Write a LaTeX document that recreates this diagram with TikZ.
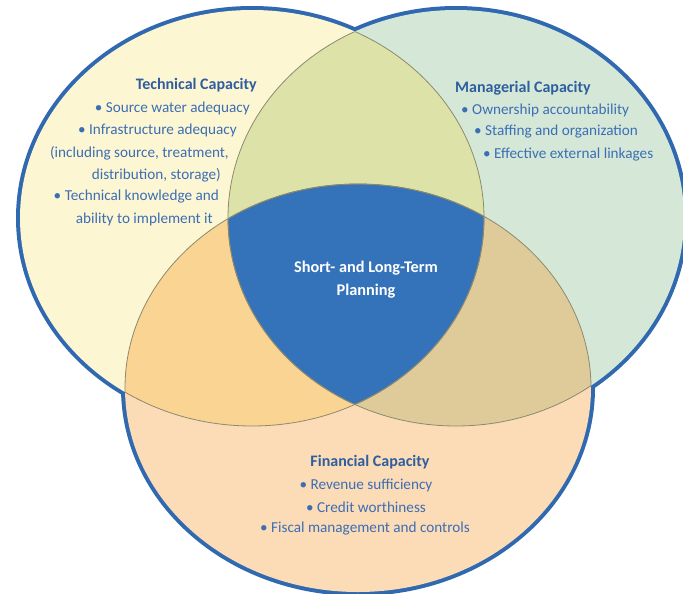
\documentclass[tikz,border=0pt]{standalone}
\usepackage{fontspec}
\setmainfont{Carlito}
\usepackage{tikz}

\definecolor{rimblue}{HTML}{3069B0}
\definecolor{techfill}{HTML}{FDF6D3}
\definecolor{mgmtfill}{HTML}{D5E8D8}
\definecolor{finfill}{HTML}{FCDBB7}
\definecolor{tmfill}{HTML}{DDE3A8}
\definecolor{tffill}{HTML}{FAD492}
\definecolor{mffill}{HTML}{DFCB9A}
\definecolor{corefill}{HTML}{3473B9}
\definecolor{seamgrey}{HTML}{8C8A6E}
\definecolor{itemblue}{HTML}{3C6EB4}
\definecolor{headblue}{HTML}{2E5E9E}

\tikzset{
  rim/.style={draw=rimblue, line width=8pt},
  seam/.style={draw=seamgrey, line width=0.8pt},
  item/.style={text=itemblue, inner sep=0pt, font=\fontsize{15.2}{17}\selectfont},
  head/.style={item, text=headblue, font=\bfseries\fontsize{16}{18}\selectfont},
  core/.style={item, text=white, font=\bfseries\fontsize{16.3}{18}\selectfont}
}

\def\techshape{(252,218) ellipse [x radius=232pt, y radius=208pt]}
\def\mgmtshape{(456,218) ellipse [x radius=228pt, y radius=208pt]}
\def\finshape{(358,388) ellipse [x radius=233pt, y radius=204pt]}

\begin{document}
\begin{tikzpicture}[x=1pt,y=-1pt]
\useasboundingbox (0,0) rectangle (683,594);
% outer rim
\draw[rim] \techshape;
\draw[rim] \mgmtshape;
\draw[rim] \finshape;
% single areas
\fill[techfill] \techshape;
\fill[mgmtfill] \mgmtshape;
\fill[finfill] \finshape;
% overlaps
\begin{scope} \clip \techshape; \fill[tmfill] \mgmtshape; \fill[tffill] \finshape; \end{scope}
\begin{scope} \clip \mgmtshape; \fill[mffill] \finshape; \end{scope}
\begin{scope} \clip \techshape; \clip \mgmtshape; \fill[corefill] \finshape; \end{scope}
% thin inner borders
\begin{scope} \clip \techshape; \draw[seam] \mgmtshape; \draw[seam] \finshape; \end{scope}
\begin{scope} \clip \mgmtshape; \draw[seam] \techshape; \draw[seam] \finshape; \end{scope}
\begin{scope} \clip \finshape; \draw[seam] \techshape; \draw[seam] \mgmtshape; \end{scope}

% technical capacity
\node[head, anchor=east] (techhead) at (257,85) {Technical Capacity};
\foreach \ex/\ey/\txt [count=\i] in {
  250/108/{\textbullet\ Source water adequacy},
  237/130/{\textbullet\ Infrastructure adequacy},
  229/153/{(including source, treatment,},
  221/175/{distribution, storage)},
  219/197/{\textbullet\ Technical knowledge and},
  213/219/{ability to implement it}}
  \node[item, anchor=east] (tech\i) at (\ex,\ey) {\txt};

% managerial capacity
\node[head, anchor=west] (mgmthead) at (455,88) {Managerial Capacity};
\foreach \ex/\ey/\txt [count=\i] in {
  461/110/{\textbullet\ Ownership accountability},
  474/132/{\textbullet\ Staffing and organization},
  483/155/{\textbullet\ Effective external linkages}}
  \node[item, anchor=west] (mgmt\i) at (\ex,\ey) {\txt};

% centre
\node[core] (core1) at (366,268) {Short- and Long-Term};
\node[core] (core2) at (366,291) {Planning};

% financial capacity
\node[head] (finhead) at (370,462) {Financial Capacity};
\foreach \ex/\ey/\txt [count=\i] in {
  366/485/{\textbullet\ Revenue sufficiency},
  366/507/{\textbullet\ Credit worthiness},
  365/529/{\textbullet\ Fiscal management and controls}}
  \node[item] (fin\i) at (\ex,\ey) {\txt};
\end{tikzpicture}
\end{document}
